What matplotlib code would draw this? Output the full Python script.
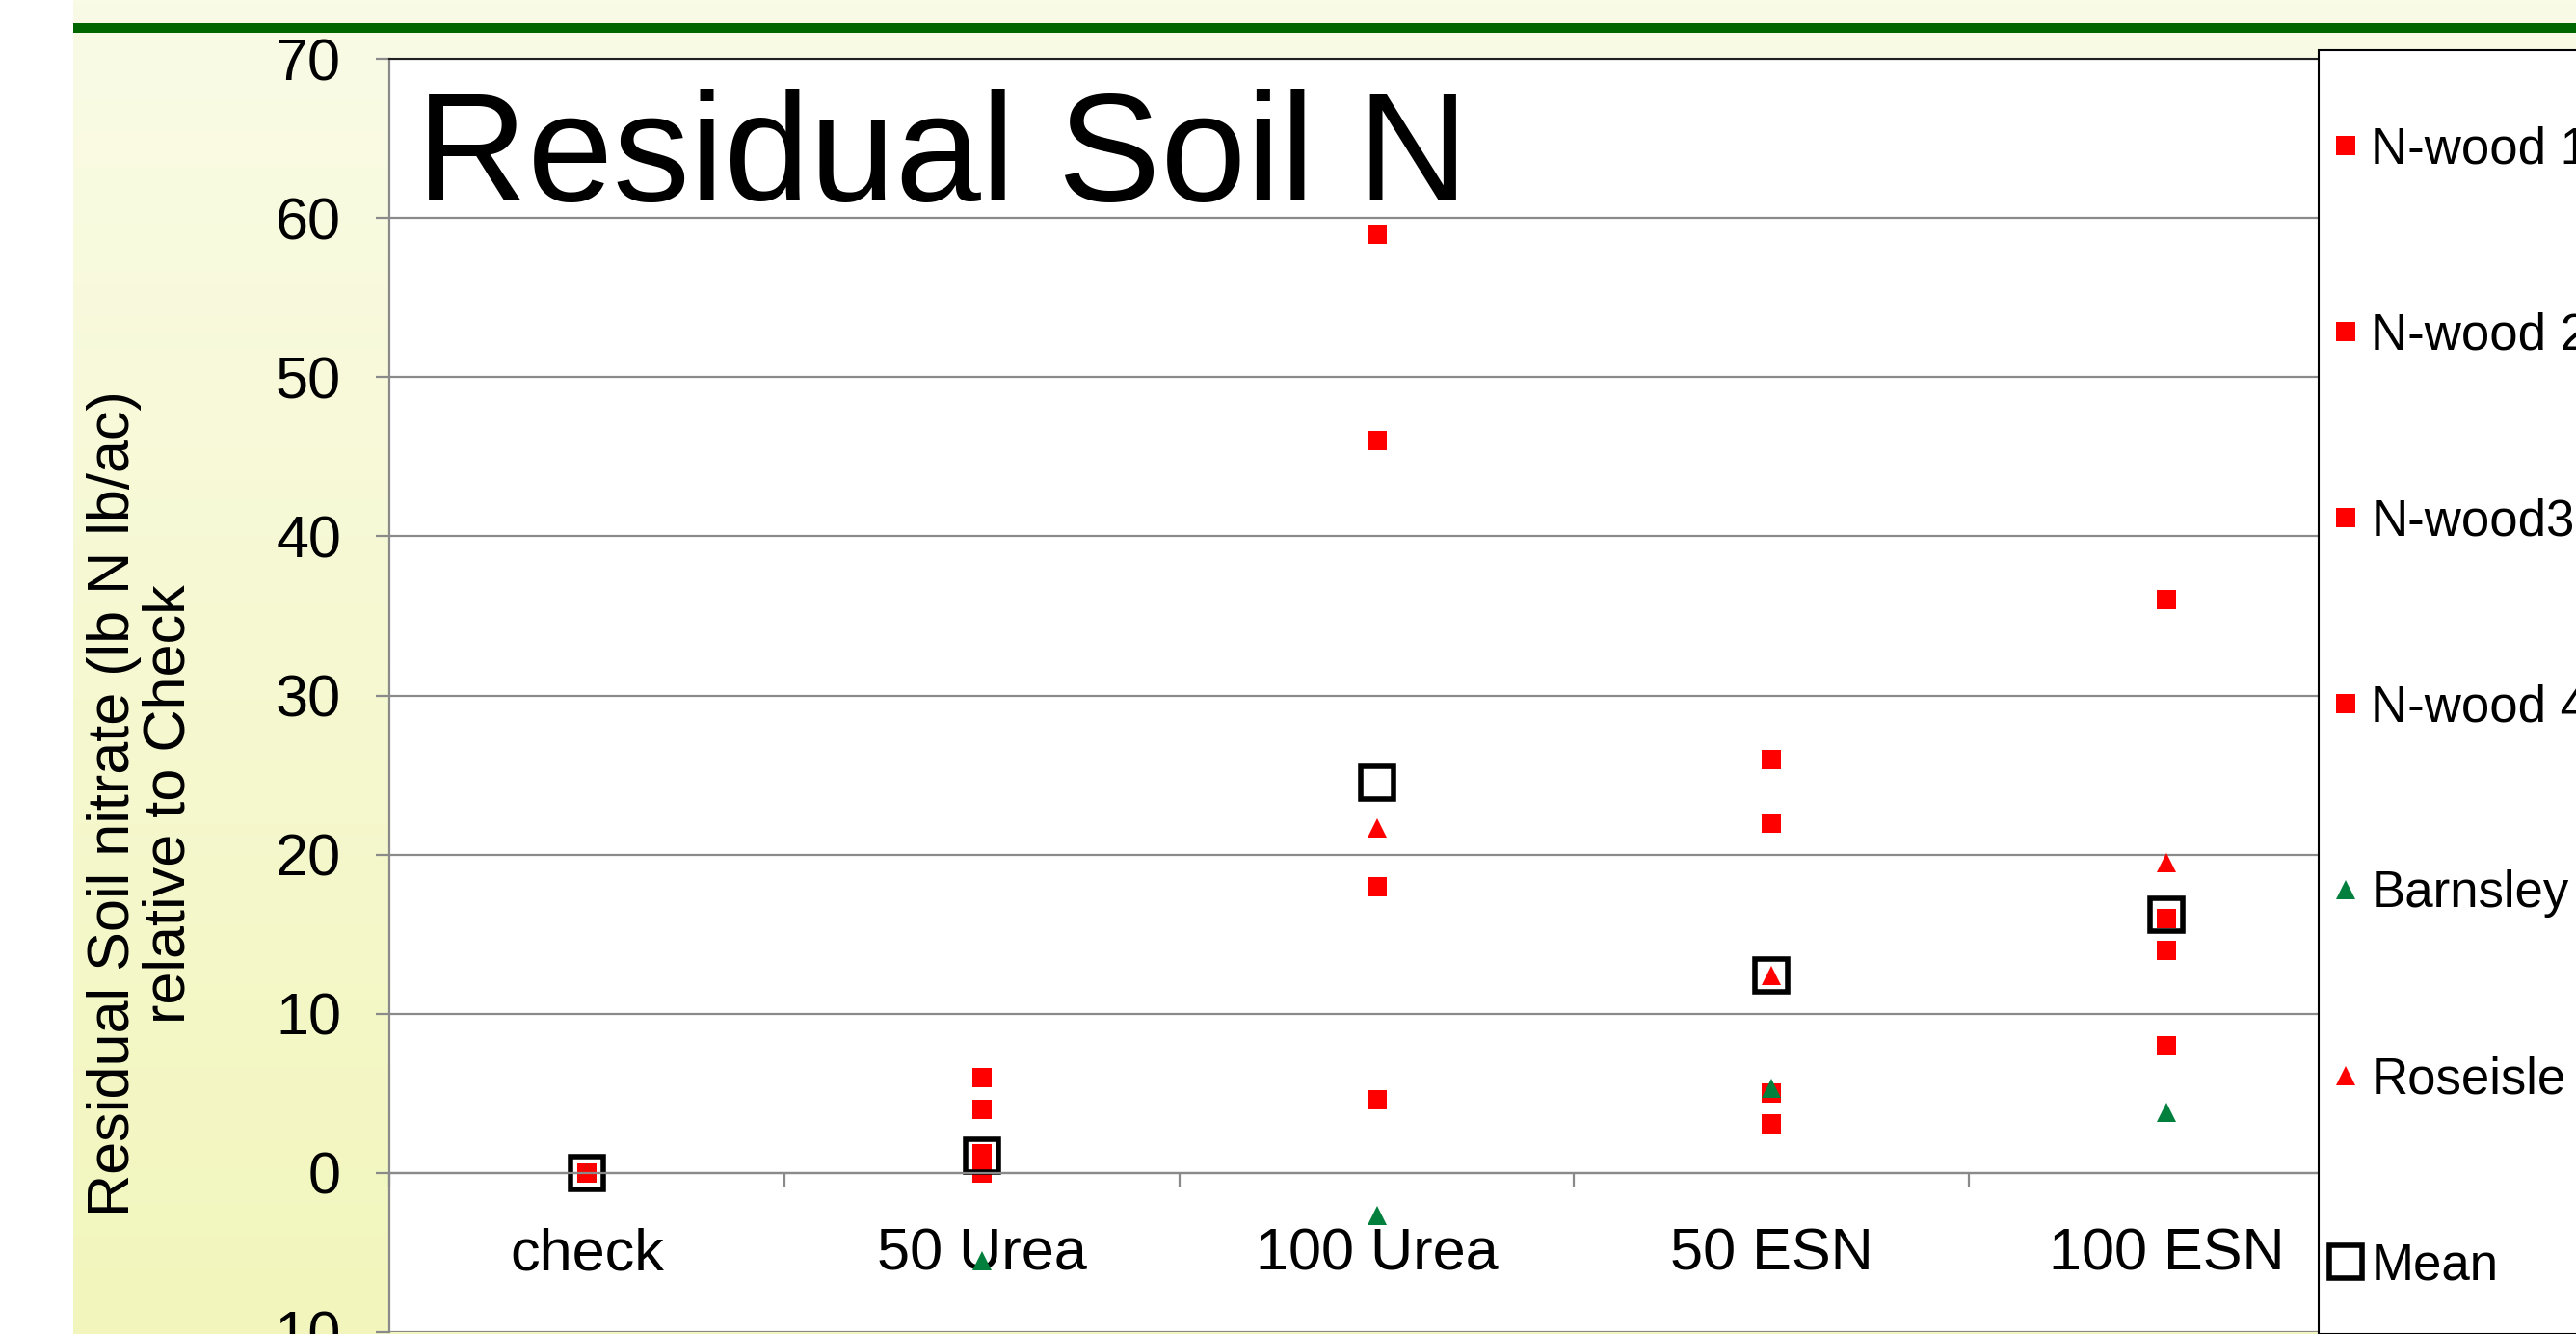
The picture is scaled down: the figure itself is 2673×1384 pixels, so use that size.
import matplotlib.pyplot as plt
import numpy as np
from matplotlib.patches import Rectangle

plt.rcParams['font.family'] = ['Liberation Sans', 'DejaVu Sans']
plt.rcParams['axes.unicode_minus'] = False

# data
treatments = ['check', '50 Urea', '100 Urea', '50 ESN', '100 ESN']
nwood1 = [0, 6.0, 59.0, 26.0, 36.0]
nwood2 = [0, 4.0, 46.0, 22.0, 16.0]
nwood3 = [0, 1.2, 18.0, 5.0, 14.0]
nwood4 = [0, 0.0, 4.6, 3.1, 8.0]
barnsley = [0, -5.5, -2.7, 5.3, 3.8]
roseisle = [0, 0.9, 21.7, 12.4, 19.5]
mean = [0, 1.1, 24.5, 12.4, 16.2]

W, H = 2673, 1384
fig = plt.figure(figsize=(W / 100, H / 100), dpi=100)

# slide background: cream/yellow gradient strip and green rule
bg = fig.add_axes([0, 0, 1, 1], zorder=0)
bg.axis('off')
top_col = np.array([250, 251, 230]) / 255
bot_col = np.array([242, 246, 188]) / 255
t = np.linspace(0, 1, 256)[:, None, None]
grad = top_col * (1 - t) + bot_col * t
bg.imshow(grad, extent=(76, W, H, 0), aspect='auto')
bg.add_patch(Rectangle((76, 24), W - 76, 10, color='#006600', lw=0))
bg.set_xlim(0, W)
bg.set_ylim(H, 0)

# plot area
left, right, top, bottom = 404, 2453, 61, 1382
ax = fig.add_axes([left / W, (H - bottom) / H, (right - left) / W, (bottom - top) / H], zorder=2)
ax.set_facecolor('white')

x = np.arange(len(treatments))
red = '#FF0000'
green = '#00803C'
sq = 14.3
ax.plot(x, nwood1, 's', color=red, ms=sq, mew=0, label='N-wood 1')
ax.plot(x, nwood2, 's', color=red, ms=sq, mew=0, label='N-wood 2')
ax.plot(x, nwood3, 's', color=red, ms=sq, mew=0, label='N-wood3')
ax.plot(x, nwood4, 's', color=red, ms=sq, mew=0, label='N-wood 4')
ax.plot(x, barnsley, '^', color=green, ms=sq, mew=0, label='Barnsley')
ax.plot(x, roseisle, '^', color=red, ms=sq, mew=0, label='Roseisle')
ax.plot(x, mean, 's', color='black', ms=25, mew=4.0, fillstyle='none', label='Mean')

ax.set_xlim(-0.5, 4.5)
ax.set_ylim(-10, 70)
ax.set_yticks(range(-10, 71, 10))
ax.grid(axis='y', color='#8A8A8A', lw=1.6)
ax.set_axisbelow(True)

ax.spines['bottom'].set_position(('data', 0))
ax.spines['bottom'].set_color('#8A8A8A')
ax.spines['bottom'].set_linewidth(1.6)
ax.spines['left'].set_color('#8A8A8A')
ax.spines['left'].set_linewidth(1.6)
ax.spines['top'].set_color('#202020')
ax.spines['top'].set_linewidth(1.5)
ax.spines['right'].set_visible(False)

ax.set_xticks(x)
ax.set_xticklabels(treatments)
ax.set_xticks(np.arange(-0.5, 4.6, 1), minor=True)
ax.tick_params(axis='x', which='major', length=0, pad=41, labelsize=44)
ax.tick_params(axis='x', which='minor', length=10, width=1.6, color='#8A8A8A', direction='out')
ax.tick_params(axis='y', length=10, width=1.6, color='#8A8A8A', pad=26, labelsize=44)

fig.text(432 / W, 1 - 208 / H, 'Residual Soil N', fontsize=115, va='baseline', ha='left')

fig.text(147 / W, 1 - 834 / H, 'Residual Soil nitrate (lb N lb/ac)\nrelative to Check',
         rotation=90, fontsize=44, ha='center', va='center', multialignment='center',
         linespacing=1.0)

# legend box and entries
fig.add_artist(Rectangle((2406 / W, 0), 1, 1 - 52 / H, transform=fig.transFigure,
                         facecolor='white', edgecolor='black', lw=1.5, zorder=3))
handles, labels = ax.get_legend_handles_labels()
leg = fig.legend(handles, labels, loc='upper left', bbox_to_anchor=(2413 / W, 1 - 130 / H),
                 frameon=False, fontsize=38, handlelength=0.8, handletextpad=0.1,
                 labelspacing=2.71, borderpad=0, borderaxespad=0)
leg.set_zorder(4)

fig.savefig('out.png', dpi=100)
